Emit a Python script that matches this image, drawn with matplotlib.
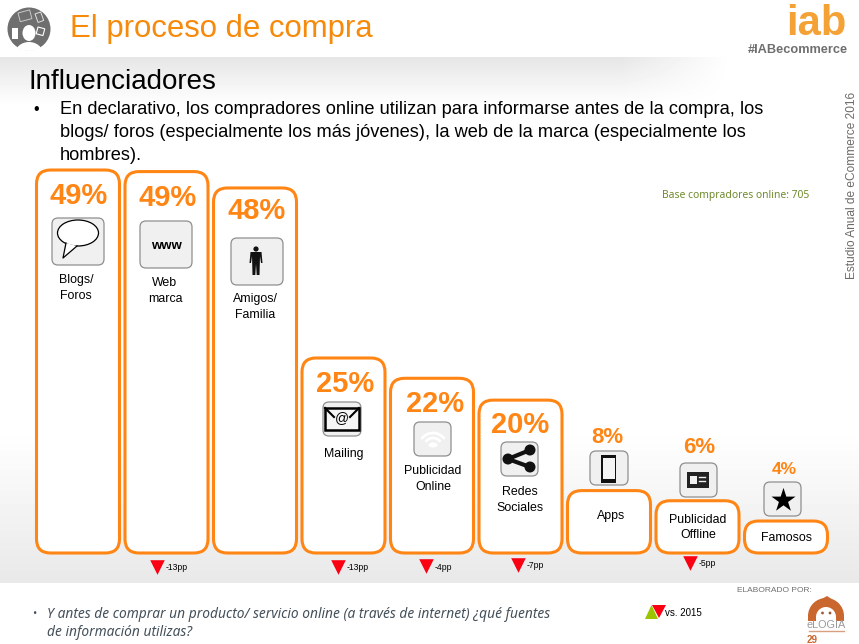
import numpy as np
import matplotlib
matplotlib.use('Agg')
import matplotlib.pyplot as plt
from matplotlib.patches import FancyBboxPatch, Circle, Ellipse, Polygon, Rectangle, Wedge, Arc

# data
categories = [['Blogs/', 'Foros'], ['Web', 'marca'], ['Amigos/', 'Familia'], ['Mailing'],
              ['Publicidad', 'Online'], ['Redes', 'Sociales'], ['Apps'],
              ['Publicidad', 'Offline'], ['Famosos']]
values = [49.1, 48.9, 46.8, 25.0, 22.4, 19.6, 8.0, 6.7, 4.1]
value_labels = ['49%', '49%', '48%', '25%', '22%', '20%', '8%', '6%', '4%']
changes = ['', '-13pp', '', '-13pp', '-4pp', '-7pp', '', '-5pp', '']

ORANGE = '#ff8514'
SANS = 'Liberation Sans'
W, H = 859, 644

# layout, in pixels
bar_step = 88.5
bar_first = 78
bar_width = 83
bar_base = 553
px_per_pp = 7.8
pct_y = [196, 198, 211, 384, 404, 425, 437, 447, 469]
pct_dx = [1, 1, 2, 2, 3, 0, -2, 2, -2]
pct_size = [21, 21, 21, 21, 21, 21, 16, 16, 12.5]
icon_box = [(52, 218, 52, 47), (140, 221, 52, 47), (231, 238, 52, 47),
            (323, 402, 38, 34), (414, 422, 37, 34), (501, 442, 37, 34),
            (590, 451, 38, 34), (680, 463, 37, 34), (764, 482, 37, 34)]
label_y = [(280, 296), (283, 299), (299, 315), (454,), (471, 487), (492, 508), (516,), (520, 535), (538,)]
label_x = [76, 165, 255, 344, 433, 520, 611, 698, 787]
tri_x = [0, 157, 0, 337.5, 426, 518, 0, 690, 0]
tri_y = [0, 567, 0, 567, 566, 565, 0, 563, 0]

fig = plt.figure(figsize=(W / 100, H / 100), dpi=100)
fig.patch.set_facecolor('white')

# background gradients
ax_bg = fig.add_axes([0, 0, 1, 1])
yy, xx = np.mgrid[0:H, 0:W]
top_fade = np.clip((105 - yy) / 48, 0, 1) * np.clip((730 - xx) / 110, 0, 1)
low_fade = np.clip((yy - 430) / 153, 0, 1)
shade = 1 - 0.10 * top_fade - 0.09 * low_fade
shade[yy < 57] = 1
shade[yy >= 583] = 1
ax_bg.imshow(shade, cmap='gray', vmin=0, vmax=1, extent=(0, W, H, 0), aspect='auto')
ax_bg.set_xlim(0, W)
ax_bg.set_ylim(H, 0)
ax_bg.axis('off')

# bars, on a real value axis
ax = fig.add_axes([0, 0, 1, 1])
ax.patch.set_alpha(0)
ax.set_xlim(-bar_first / bar_step, (W - bar_first) / bar_step)
ax.set_ylim(-(H - bar_base) / px_per_pp, bar_base / px_per_pp)
ax.axis('off')
for i, v in enumerate(values):
    w = bar_width / bar_step
    ax.add_patch(FancyBboxPatch((i - w / 2, 0), w, v,
                                boxstyle='round,pad=0,rounding_size=%f' % (14 / bar_step),
                                mutation_aspect=bar_step / px_per_pp,
                                fc='white', ec=ORANGE, lw=2.2))

# everything else in pixel coordinates
top = fig.add_axes([0, 0, 1, 1])
top.patch.set_alpha(0)
top.set_xlim(0, W)
top.set_ylim(H, 0)
top.axis('off')

# header
top.text(70, 29, 'El proceso de compra', family=SANS, fontsize=22.4, color='#f58a0b', va='center')
top.text(28.5, 81.5, 'Influenciadores', family=SANS, fontsize=20, color='black', va='center')
top.text(33, 109, '•', family=SANS, fontsize=11.5, va='center')
body = ['En declarativo, los compradores online utilizan para informarse antes de la compra, los',
        'blogs/ foros (especialmente los más jóvenes), la web de la marca (especialmente los',
        'hombres).']
for line, y in zip(body, [109, 132, 155]):
    top.text(60, y, line, family=SANS, fontsize=13.12, color='black', va='center')

# person-with-devices badge
top.add_patch(Circle((29, 29), 21.5, fc='#6f6f6f', ec='none'))
body_sil = Ellipse((29, 54), 28, 24, fc='white', ec='none')
top.add_patch(body_sil)
body_sil.set_clip_path(Circle((29, 29), 22, transform=top.transData))
top.add_patch(Ellipse((29, 33), 13, 16, fc='white', ec='none'))
top.add_patch(Rectangle((12, 28), 6, 11, fc='white', ec='none'))
top.add_patch(Rectangle((18, 13), 12, 9, angle=-15, fc='none', ec='#c8c8c8', lw=0.7))
top.add_patch(Rectangle((35, 14), 6, 9, angle=-20, fc='none', ec='#e0e0e0', lw=0.7))
top.add_patch(Rectangle((38, 27), 7, 7, angle=15, fc='none', ec='white', lw=0.8))

# iab logo
top.text(816, 35, 'iab', family=SANS, fontsize=30, weight='bold', color='#f4a236', ha='center', va='baseline')
top.text(848, 49.5, '#IABecommerce', family=SANS, fontsize=9.2, weight='bold', color='#6e6e6e', ha='right', va='center')
top.text(852, 185, 'Estudio Anual de eCommerce 2016', family=SANS, fontsize=8.6, color='#6a6a6a',
         rotation=90, ha='center', va='center')
top.text(662, 195, 'Base compradores online: 705', family='Noto Sans', fontsize=7.45, color='#6f8a2c', va='center')

# percentages and category labels
for i, lab in enumerate(value_labels):
    cx = bar_first + bar_step * i
    top.text(cx + pct_dx[i], pct_y[i], lab, family=SANS, weight='bold',
             fontsize=pct_size[i], color=ORANGE, ha='center', va='center')
    for line, y in zip(categories[i], label_y[i]):
        top.text(label_x[i], y, line, family=SANS, fontsize=8.9, color='black', ha='center', va='center')


def icon_frame(x, y, w, h):
    top.add_patch(FancyBboxPatch((x, y), w, h, boxstyle='round,pad=0,rounding_size=6',
                                 fc='#f0f0f0', ec='#8f8f8f', lw=0.9, zorder=3))


for b in icon_box:
    icon_frame(*b)

# speech bubble
top.add_patch(Ellipse((78, 233), 41, 26, fc='white', ec='black', lw=0.9, zorder=4))
top.add_patch(Polygon([(66, 243), (63, 258), (77, 246)], fc='white', ec='none', zorder=5))
top.plot([66, 63, 77], [243, 258, 246], color='black', lw=0.9, zorder=6)
# www
top.text(166, 246, 'www', family=SANS, fontsize=9.5, weight='bold', ha='center', va='center', zorder=5)
# person
top.add_patch(Circle((256, 249), 2.6, fc='#111111', ec='none', zorder=5))
top.add_patch(Polygon([(250.5, 252), (261.5, 252), (262.5, 263), (261, 263), (260, 256), (259.5, 275),
                       (256.7, 275), (256, 264), (255.3, 275), (252.5, 275), (252, 256), (251, 263),
                       (249.5, 263)], fc='#111111', ec='none', zorder=5))
# mail
top.add_patch(Rectangle((325, 408), 34, 22, fc='#f5f5f5', ec='black', lw=1.8, zorder=5))
top.plot([325, 334], [408, 417], color='black', lw=1.5, zorder=6)
top.plot([359, 350], [408, 417], color='black', lw=1.5, zorder=6)
top.text(342, 418, '@', family=SANS, fontsize=10, ha='center', va='center', zorder=7)
# wifi, nearly lost in the box
for r in (14, 9):
    top.add_patch(Arc((433, 447), r * 2, r * 2, theta1=215, theta2=325, ec='white', lw=2, zorder=5))
top.add_patch(Ellipse((433, 445), 9, 5, fc='white', ec='none', zorder=5))
# share
pts = [(530, 450), (508, 459), (530, 467)]
top.plot([p[0] for p in pts], [p[1] for p in pts], color='#111111', lw=3, zorder=5)
for p in pts:
    top.add_patch(Circle(p, 5.5, fc='#111111', ec='none', zorder=6))
# phone
top.add_patch(Rectangle((601, 455), 15, 28, fc='#111111', ec='none', zorder=5))
top.add_patch(Rectangle((602.5, 458), 12, 21, fc='#f4f4f4', ec='none', zorder=6))
# newspaper
top.add_patch(Rectangle((687, 472), 22, 16, fc='#222222', ec='none', zorder=5))
top.add_patch(Rectangle((690, 476), 7, 8, fc='#f0f0f0', ec='none', zorder=6))
top.plot([698.5, 705], [477, 477], color='#f0f0f0', lw=1, zorder=6)
top.plot([698.5, 705], [481, 481], color='#f0f0f0', lw=1, zorder=6)
# star
top.scatter([782.5], [500], marker='*', s=330, c='black', linewidths=0, zorder=5)

# change markers vs 2015
for i, lab in enumerate(changes):
    if lab:
        top.scatter([tri_x[i]], [tri_y[i]], marker='v', s=110, c='#fa0012', linewidths=0, zorder=5)
        top.text(tri_x[i] + 9, tri_y[i] + 1, lab, family=SANS, fontsize=6.2, color='black', va='center')
top.add_patch(Polygon([(645, 619), (651.5, 605), (658, 619)], fc='#9cc400', ec='none', zorder=5))
top.add_patch(Polygon([(652, 605), (666, 605), (659, 618)], fc='#fa0012', ec='none', zorder=6))
top.text(665, 613, 'vs. 2015', family=SANS, fontsize=7, color='black', va='center')

# footer question
top.text(32, 614, '•', family='Noto Sans', fontsize=8, color='#44505a', va='center')
top.text(47, 614, 'Y antes de comprar un producto/ servicio online (a través de internet) ¿qué fuentes',
         family='Noto Sans', style='italic', fontsize=9.9, color='#44505a', va='center')
top.text(47, 632, 'de información utilizas?',
         family='Noto Sans', style='italic', fontsize=9.9, color='#44505a', va='center')

# elogia logo
top.text(737, 591, 'ELABORADO POR:', family=SANS, fontsize=6, color='#707070', va='center')
top.add_patch(Wedge((826, 616), 18, 180, 360, fc='#c9672f', ec='none'))
top.add_patch(Polygon([(820, 600), (827, 596), (833, 600)], fc='#c9672f', ec='none'))
top.add_patch(Rectangle((808, 616), 36, 5, fc='#c9672f', ec='none'))
top.add_patch(Wedge((826, 617), 10, 180, 360, fc='white', ec='none'))
top.add_patch(Rectangle((816, 617), 20, 4, fc='white', ec='none'))
top.add_patch(Circle((822.5, 613), 1.4, fc='#9a5a36', ec='none'))
top.add_patch(Circle((830, 613), 1.4, fc='#9a5a36', ec='none'))
top.text(826, 625.5, 'eLOGIA', family=SANS, fontsize=7.8, color='#9a9a9a', ha='center', va='center')
top.plot([809, 844], [631, 631], color='#d8a080', lw=1)
top.text(812, 640, '29', family=SANS, fontsize=7, weight='bold', color='#c9672f', ha='center', va='center')

fig.savefig('out.png', dpi=100)
